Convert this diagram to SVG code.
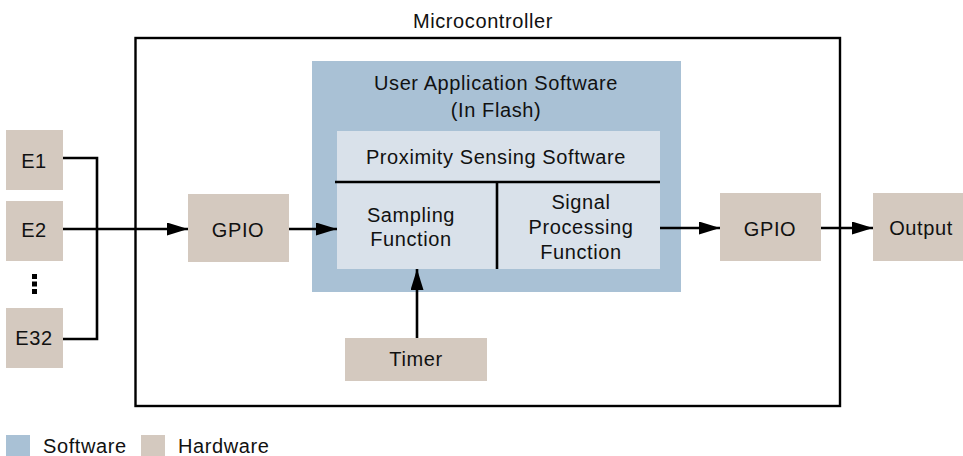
<svg xmlns="http://www.w3.org/2000/svg" width="963" height="456" viewBox="0 0 963 456">
<style>
text{font-family:"Liberation Sans",Arial,sans-serif;font-size:20px;letter-spacing:0.6px;fill:#111;text-anchor:middle}
.hw{fill:#d4c9bf}
.sw{fill:#a9c1d5}
.in{fill:#d9e1ea}
.ln{stroke:#000;stroke-width:2.6;fill:none}
.lg{text-anchor:start}
</style>
<defs>
<marker id="ah" markerUnits="userSpaceOnUse" markerWidth="22" markerHeight="14" refX="21" refY="6.5" orient="auto">
<path d="M0,0 L21,6.5 L0,13 z" fill="#000"/>
</marker>
</defs>
<g id="microcontroller">
<rect x="135.5" y="38" width="704.5" height="368" fill="none" stroke="#000" stroke-width="2.4"/>
<text x="483" y="28">Microcontroller</text>
</g>
<g id="user-app">
<rect class="sw" x="312" y="61" width="369" height="231"/>
<text x="496" y="90">User Application Software</text>
<text x="496" y="117">(In Flash)</text>
</g>
<g id="proximity">
<rect class="in" x="337" y="131" width="323" height="138"/>
<text x="496" y="164">Proximity Sensing Software</text>
<line class="ln" x1="335" y1="182" x2="660" y2="182"/>
<line class="ln" x1="497" y1="182" x2="497" y2="269"/>
</g>
<g id="sampling">
<text x="411" y="222">Sampling</text>
<text x="411" y="246">Function</text>
</g>
<g id="signal">
<text x="581" y="209">Signal</text>
<text x="581" y="234">Processing</text>
<text x="581" y="259">Function</text>
</g>
<g id="e1"><rect class="hw" x="6" y="130" width="57" height="60"/><text x="34" y="168">E1</text></g>
<g id="e2"><rect class="hw" x="6" y="201" width="57" height="60"/><text x="34" y="237">E2</text></g>
<g id="dots"><rect x="32" y="274" width="5" height="5"/><rect x="32" y="281.5" width="5" height="5"/><rect x="32" y="289" width="5" height="5"/></g>
<g id="e32"><rect class="hw" x="6" y="308" width="57" height="60"/><text x="34" y="345">E32</text></g>
<g id="gpio-in"><rect class="hw" x="188" y="194" width="101" height="68"/><text x="238" y="237">GPIO</text></g>
<g id="gpio-out"><rect class="hw" x="720" y="193" width="101" height="68"/><text x="770" y="236">GPIO</text></g>
<g id="output"><rect class="hw" x="873" y="193" width="90" height="68"/><text x="921" y="235">Output</text></g>
<g id="timer"><rect class="hw" x="345" y="338" width="142" height="43"/><text x="416" y="366">Timer</text></g>
<g id="connectors">
<path class="ln" d="M63,158 H97 V339 H63"/>
<path class="ln" d="M63,229 H188" marker-end="url(#ah)"/>
<path class="ln" d="M289,229 H337" marker-end="url(#ah)"/>
<path class="ln" d="M660,228 H720" marker-end="url(#ah)"/>
<path class="ln" d="M821,228 H873" marker-end="url(#ah)"/>
<path class="ln" d="M417,338 V269" marker-end="url(#ah)"/>
</g>
<g id="legend">
<rect class="sw" x="6" y="435" width="24" height="21"/>
<text class="lg" x="43" y="453">Software</text>
<rect class="hw" x="141" y="435" width="24" height="21"/>
<text class="lg" x="178" y="453">Hardware</text>
</g>
</svg>
